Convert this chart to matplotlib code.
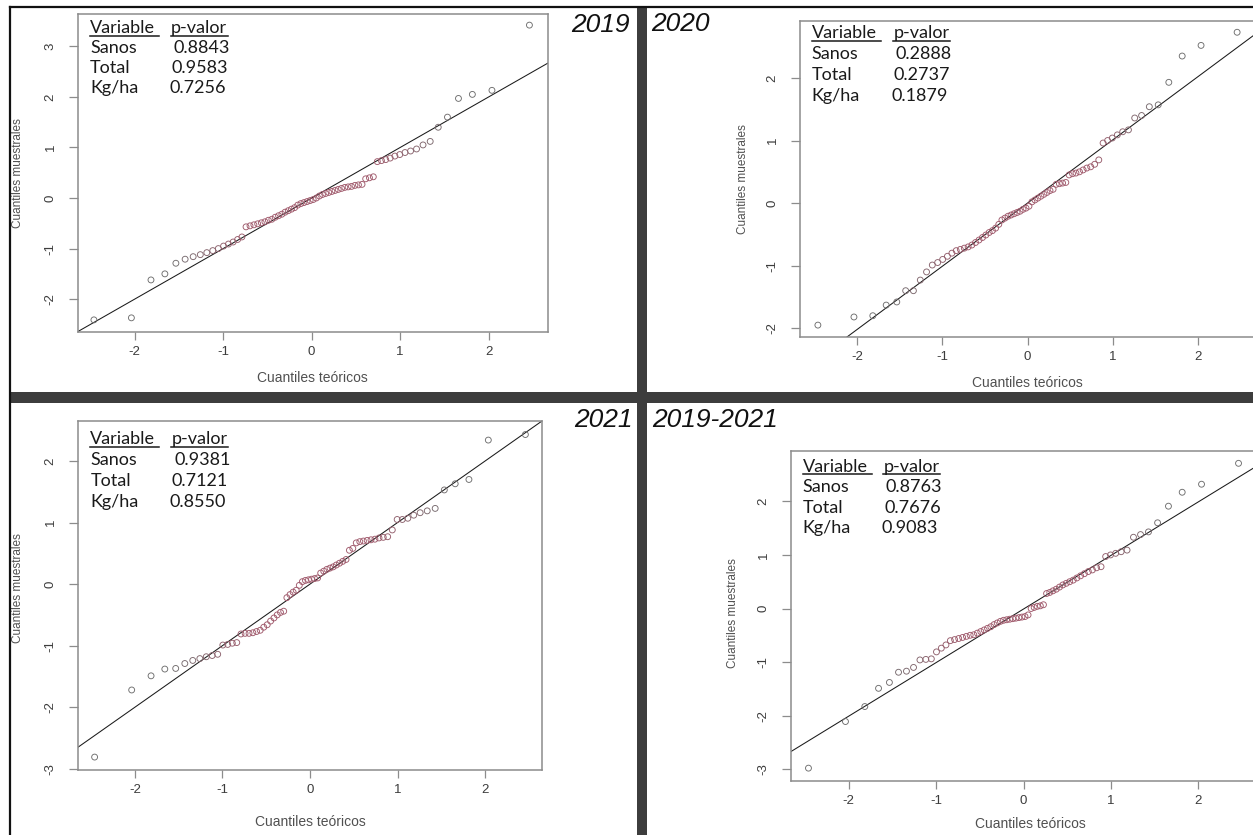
import matplotlib
matplotlib.use("Agg")
import matplotlib.pyplot as plt
from matplotlib.lines import Line2D
from matplotlib.patches import Rectangle
from matplotlib.colors import to_rgb
from statistics import NormalDist

# ---------------- data ----------------
panel_titles = ["2019", "2020", "2021", "2019-2021"]
table_header = ["Variable", "p-valor"]
table_variables = ["Sanos", "Total", "Kg/ha"]
pvalues_2019 = ["0.8843", "0.9583", "0.7256"]
pvalues_2020 = ["0.2888", "0.2737", "0.1879"]
pvalues_2021 = ["0.9381", "0.7121", "0.8550"]
pvalues_2019_2021 = ["0.8763", "0.7676", "0.9083"]

xlabel_text = "Cuantiles teóricos"
ylabel_text = "Cuantiles muestrales"

x_ticks = [-2, -1, 0, 1, 2]
y_ticks_2019 = [-2, -1, 0, 1, 2, 3]
y_ticks_2020 = [-2, -1, 0, 1, 2]
y_ticks_2021 = [-3, -2, -1, 0, 1, 2]
y_ticks_2019_2021 = [-3, -2, -1, 0, 1, 2]

# sorted sample quantiles (standardised residuals)
sample_2019 = [-2.41, -2.37, -1.62, -1.50, -1.29, -1.21, -1.16, -1.12, -1.08, -1.04,
               -1.00, -0.95, -0.91, -0.87, -0.82, -0.77, -0.57, -0.55, -0.53, -0.51,
               -0.49, -0.47, -0.44, -0.42, -0.38, -0.35, -0.32, -0.28, -0.25, -0.22,
               -0.19, -0.14, -0.11, -0.09, -0.07, -0.05, -0.03, 0.00, 0.04, 0.07,
               0.09, 0.11, 0.13, 0.15, 0.17, 0.19, 0.21, 0.22, 0.23, 0.25,
               0.26, 0.27, 0.38, 0.40, 0.42, 0.72, 0.74, 0.76, 0.79, 0.83,
               0.86, 0.90, 0.93, 0.97, 1.05, 1.12, 1.40, 1.60, 1.97, 2.05,
               2.13, 3.42]
sample_2020 = [-1.95, -1.82, -1.80, -1.63, -1.58, -1.40, -1.40, -1.23, -1.10, -0.99,
               -0.95, -0.90, -0.85, -0.80, -0.76, -0.74, -0.72, -0.70, -0.67, -0.63,
               -0.59, -0.55, -0.51, -0.47, -0.44, -0.40, -0.34, -0.27, -0.24, -0.21,
               -0.19, -0.17, -0.15, -0.13, -0.10, -0.08, -0.05, 0.02, 0.05, 0.08,
               0.11, 0.14, 0.17, 0.20, 0.22, 0.30, 0.31, 0.32, 0.33, 0.45,
               0.47, 0.48, 0.50, 0.53, 0.56, 0.58, 0.62, 0.69, 0.96, 1.00,
               1.04, 1.09, 1.14, 1.17, 1.36, 1.40, 1.54, 1.57, 1.93, 2.35,
               2.52, 2.73]
sample_2021 = [-2.81, -1.72, -1.49, -1.38, -1.37, -1.29, -1.24, -1.21, -1.18, -1.16,
               -1.14, -0.99, -0.98, -0.96, -0.95, -0.81, -0.80, -0.80, -0.79, -0.77,
               -0.75, -0.70, -0.66, -0.60, -0.55, -0.50, -0.46, -0.44, -0.22, -0.17,
               -0.13, -0.10, -0.02, 0.04, 0.06, 0.07, 0.08, 0.09, 0.10, 0.18,
               0.21, 0.24, 0.26, 0.28, 0.31, 0.34, 0.37, 0.40, 0.55, 0.58,
               0.67, 0.69, 0.70, 0.71, 0.72, 0.73, 0.75, 0.76, 0.77, 0.88,
               1.05, 1.05, 1.07, 1.12, 1.16, 1.19, 1.23, 1.53, 1.63, 1.70,
               2.34, 2.43]
sample_2019_2021 = [-2.98, -2.11, -1.83, -1.49, -1.38, -1.19, -1.17, -1.10, -0.96, -0.95,
                    -0.94, -0.81, -0.74, -0.68, -0.60, -0.58, -0.56, -0.54, -0.52, -0.50,
                    -0.49, -0.46, -0.43, -0.40, -0.37, -0.34, -0.30, -0.27, -0.24, -0.22,
                    -0.21, -0.20, -0.19, -0.18, -0.17, -0.16, -0.15, -0.12, 0.00, 0.02,
                    0.04, 0.05, 0.07, 0.28, 0.30, 0.33, 0.36, 0.40, 0.44, 0.47,
                    0.50, 0.53, 0.57, 0.61, 0.65, 0.69, 0.72, 0.76, 0.78, 0.97,
                    1.00, 1.03, 1.06, 1.09, 1.33, 1.38, 1.43, 1.60, 1.91, 2.17,
                    2.32, 2.71]

# reference line (qqline)
qqline_slope = [1.00, 1.01, 1.00, 1.00]
qqline_intercept = [0.00, 0.00, 0.00, -0.01]

samples = [sample_2019, sample_2020, sample_2021, sample_2019_2021]
pvalues = [pvalues_2019, pvalues_2020, pvalues_2021, pvalues_2019_2021]
yticks_all = [y_ticks_2019, y_ticks_2020, y_ticks_2021, y_ticks_2019_2021]

# ---------------- layout (pixels) ----------------
W, H = 1253, 835
layout = [
    dict(box=(78, 14, 548, 332), xlim=(-2.64, 2.67), ylim=(-2.65, 3.64),
         xlab=(312, 378), ylab=(18, 173),
         title=(630, 25, "right"),
         tab_x=(90, 170.7), val_x=[173.3, 171.7, 169.3], base=33.3, dy=20.0),
    dict(box=(800, 21, 1255, 337), xlim=(-2.67, 2.67), ylim=(-2.14, 2.91),
         xlab=(1027, 383), ylab=(743, 179),
         title=(651, 24, "left"),
         tab_x=(811.7, 893.3), val_x=[895.7, 893.3, 891.0], base=38.3, dy=20.8),
    dict(box=(78, 421, 542, 770), xlim=(-2.65, 2.65), ylim=(-3.02, 2.65),
         xlab=(310, 822), ylab=(18, 588),
         title=(633, 420, "right"),
         tab_x=(90.3, 171.3), val_x=[174.0, 172.0, 169.7], base=444.0, dy=21.1),
    dict(box=(791, 451, 1256, 781), xlim=(-2.66, 2.66), ylim=(-3.22, 2.94),
         xlab=(1030, 824), ylab=(733, 613),
         title=(652, 420, "left"),
         tab_x=(802.7, 883.3), val_x=[886.0, 884.3, 881.7], base=471.7, dy=20.5),
]


def fx(px):
    return px / W


def fy(py):
    return 1 - py / H


fig = plt.figure(figsize=(W / 100, H / 100), dpi=100)
fig.patch.set_facecolor("white")

red = to_rgb("#a05a6c")
gray = to_rgb("#6e6e6e")
spine_col = "#8c8c8c"
tick_font = "Liberation Sans"
table_font = "Lato"
table_size = 13

nd = NormalDist()
table_texts = []

for k in range(4):
    L = layout[k]
    x0, y0, x1, y1 = L["box"]
    ax = fig.add_axes([fx(x0), fy(y1), (x1 - x0) / W, (y1 - y0) / H])
    ys = samples[k]
    n = len(ys)
    a = 0.5 if n > 10 else 3 / 8
    xs = [nd.inv_cdf((i + 1 - a) / (n + 1 - 2 * a)) for i in range(n)]
    cols = []
    for xv in xs:
        t = min(max((abs(xv) - 0.7) / 0.9, 0.0), 1.0)
        cols.append(tuple(red[j] * (1 - t) + gray[j] * t for j in range(3)))
    ax.axline((0, qqline_intercept[k]), slope=qqline_slope[k], color="#1a1a1a", lw=0.75, zorder=2)
    ax.scatter(xs, ys, s=18, facecolors="none", edgecolors=cols, linewidths=0.65, zorder=3)
    ax.set_xlim(*L["xlim"])
    ax.set_ylim(*L["ylim"])
    ax.set_xticks(x_ticks)
    ax.set_yticks(yticks_all[k])
    ax.set_xticklabels([str(v) for v in x_ticks], fontfamily=tick_font, fontsize=9.5, color="#3c3c3c")
    ax.set_yticklabels([str(v) for v in yticks_all[k]], fontfamily=tick_font, fontsize=9.5,
                       color="#3c3c3c", rotation=90, va="center")
    ax.tick_params(axis="x", direction="out", length=5.5, width=0.9, color=spine_col, pad=4.5)
    ax.tick_params(axis="y", direction="out", length=6.5, width=0.9, color=spine_col, pad=9)
    for sp in ax.spines.values():
        sp.set_color(spine_col)
        sp.set_linewidth(1.1)
    ax.set_facecolor("white")

    fig.text(fx(L["xlab"][0]), fy(L["xlab"][1]), xlabel_text, ha="center", va="center",
             fontfamily=tick_font, fontsize=10, color="#505050")
    fig.text(fx(L["ylab"][0]), fy(L["ylab"][1]), ylabel_text, ha="center", va="center",
             rotation=90, fontfamily=tick_font, fontsize=8.5, color="#505050")

    tx, ty, tha = L["title"]
    fig.text(fx(tx), fy(ty), panel_titles[k], ha=tha, va="center", fontfamily=tick_font,
             fontstyle="italic", fontsize=19, color="#111111")

    # p-value table
    c0, c1 = L["tab_x"]
    b = L["base"]
    h0 = fig.text(fx(c0), fy(b), table_header[0], ha="left", va="baseline",
                  fontfamily=table_font, fontsize=table_size, color="#1a1a1a")
    h1 = fig.text(fx(c1), fy(b), table_header[1], ha="left", va="baseline",
                  fontfamily=table_font, fontsize=table_size, color="#1a1a1a")
    table_texts.append((h0, b, 4))
    table_texts.append((h1, b, 1))
    for r in range(3):
        yb = b + (r + 1) * L["dy"]
        fig.text(fx(c0), fy(yb), table_variables[r], ha="left", va="baseline",
                 fontfamily=table_font, fontsize=table_size, color="#1a1a1a")
        fig.text(fx(L["val_x"][r]), fy(yb), pvalues[k][r], ha="left", va="baseline",
                 fontfamily=table_font, fontsize=table_size, color="#1a1a1a")

# underline the header words
fig.canvas.draw()
renderer = fig.canvas.get_renderer()
for txt, b, extra in table_texts:
    bb = txt.get_window_extent(renderer)
    yline = b + 2.6
    fig.add_artist(Line2D([fx(bb.x0), fx(bb.x1 + extra)], [fy(yline), fy(yline)],
                          transform=fig.transFigure, color="#1a1a1a", lw=1.1))

# frame and separators
sep_col = "#3d3d3d"
fig.add_artist(Rectangle((fx(637), fy(H)), 10 / W, (H - 7) / H, transform=fig.transFigure,
                         facecolor=sep_col, edgecolor="none", zorder=10))
fig.add_artist(Rectangle((fx(10), fy(403)), (W - 10) / W, 11 / H, transform=fig.transFigure,
                         facecolor=sep_col, edgecolor="none", zorder=10))
fig.add_artist(Line2D([fx(10), fx(W)], [fy(7), fy(7)], transform=fig.transFigure,
                      color="#111111", lw=1.6, zorder=11))
fig.add_artist(Line2D([fx(10), fx(10)], [fy(7), fy(H)], transform=fig.transFigure,
                      color="#111111", lw=1.6, zorder=11))

fig.savefig("out.png", dpi=100, facecolor="white")
